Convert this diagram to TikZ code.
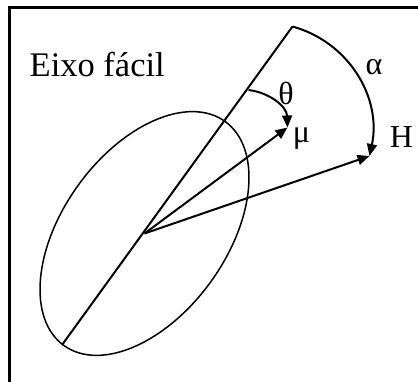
\documentclass[tikz,border=0pt]{standalone}
\usepackage{fontspec}
\setmainfont{Liberation Serif}
\usetikzlibrary{arrows.meta}
\begin{document}
\begin{tikzpicture}[x=1pt,y=1pt,
  vec/.style={line width=2pt,-{Triangle[length=12pt,width=10pt]}},
  axisline/.style={line width=2pt},
  frameline/.style={line width=2.5pt},
  lbl/.style={inner sep=0pt,font=\fontsize{32pt}{36pt}\selectfont}]
\useasboundingbox (0,0) rectangle (418,381);
\clip (0,0) rectangle (418,381);
\fill[white] (0,0) rectangle (418,381);
% frame
\draw[frameline] (9.5,-10) -- (9.5,373.5) -- (430,373.5);
% points
\coordinate (O) at (144.5,147.5);
\coordinate (A) at (292.5,354.5);
\coordinate (B) at (62,36);
\coordinate (M) at (287.5,253.5);
\coordinate (Hh) at (369.5,225);
\coordinate (T1) at (248.5,291);
% ellipse
\draw[line width=1.5pt] (O) ellipse[x radius=138, y radius=82, rotate=54.3];
% easy axis
\draw[axisline,line join=miter] (B) -- (A);
% vectors
\draw[vec] (O) -- (M);
\draw[vec] (O) -- (Hh);
% angle arcs
\draw[vec] (T1) to[out=-7,in=92] (M);
\draw[vec] (A) to[out=-15.5,in=78] (Hh);
% labels
\node[anchor=base west,inner sep=0pt,font=\fontsize{34.5pt}{40pt}\selectfont] (easy) at (29.5,304.3) {Eixo fácil};
\node[lbl] (theta) at (286,288) {θ};
\node[lbl] (mu) at (301.5,242) {μ};
\node[lbl] (alpha) at (374,313.5) {α};
\node[lbl] (H) at (401.5,243.5) {H};
\end{tikzpicture}
\end{document}
